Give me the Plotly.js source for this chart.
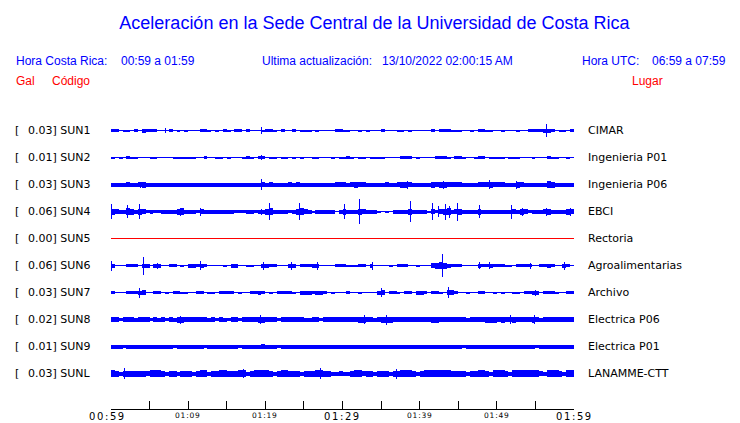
<!DOCTYPE html>
<html><head><meta charset="utf-8">
<script src="https://cdn.plot.ly/plotly-3.0.1.min.js"></script>
<style>html,body{margin:0;padding:0;background:#fff;}
#chart .scatterlayer path{shape-rendering:crispEdges;}</style>
</head><body><div id="chart" style="width:740px;height:423px;"></div>
<script>
// ---------------- DATA ----------------
const stationCodes  = ['SUN1','SUN2','SUN3','SUN4','SUN5','SUN6','SUN7','SUN8','SUN9','SUNL'];
const stationPeakGal = ['0.03','0.01','0.03','0.06','0.00','0.06','0.03','0.02','0.01','0.03'];
const stationPlaces = ['CIMAR','Ingenieria P01','Ingenieria P06','EBCI','Rectoria','Agroalimentarias','Archivo','Electrica P06','Electrica P01','LANAMME-CTT'];

// envelope of each trace, one character per half minute (00:59 -> 01:59),
// base-36 digit = full trace height in pixels
const envSUN1 = '331221314333111312121113321213' + '213313111233213113122212111133' + '221121211131112212111113133322' + '211213322112111211333344312213';
const envSUN2 = '212132211122111122222211311221' + '211123213312212212121122111212' + '232122122221111333121111333213' + '321123312222122211121113221121';
const envSUN3 = '444454456444444444444444444444' + '444444444545444454544444444455' + '545655444445445665444446566555' + '544445556555444654444447644444';
const envSUN4 = '654476465343344446744435444444' + '443334434467444434675424444414' + '644465444212144446444425356745' + '644446444444445465344456444465';
const envSUN5 = '111111111111111111111111111111' + '111111111111111111111111111111' + '111111111111111111111111111111' + '111111111111111111111111111111';
const envSUN6 = '411133314414411331214434311112' + '144112211443311144133344111133' + '322233141111213331121115676433' + '311114334333221333311334311431';
const envSUN7 = '311133345113312133221133122133' + '331211334312133332144434431211' + '131121111451332133144313321553' + '112113311212112213344133321133';
const envSUN8 = '553555455535453546655555545354' + '355355556655535555554455355555' + '555566554566655555555556655555' + '554555566656556555565455555555';
const envSUN9 = '444344444444444434444444344444' + '444344444544434444444444444444' + '444444444444444444444444444444' + '434444444444444444443444444444';
const envSUNL = '764666666577764664666467746677' + '666774677776467766646667766445' + '446775664666466777646777777766' + '664667764777647777777547776477';
const envelopes = [envSUN1, envSUN2, envSUN3, envSUN4, envSUN5, envSUN6, envSUN7, envSUN8, envSUN9, envSUNL];

// isolated spikes: minute after 00:59 and half height (px)
const spikeMinutes = [
  [7.0, 19.5, 56.5],
  [19.5],
  [2.25, 3.85, 19.5, 38.4, 43.1, 49.0, 52.5],
  [0.05, 2.15, 3.7, 8.95, 11.6, 19.5, 20.6, 24.4, 30.2, 32.2, 38.75, 41.6, 42.5, 43.4, 43.85, 44.9, 47.8, 51.9, 53.3, 56.4, 59.6],
  [],
  [0.05, 4.2, 6.05, 11.65, 19.8, 23.45, 26.7, 33.9, 42.9, 47.7, 49.0, 54.4, 58.75],
  [3.75, 35.1, 43.8, 55.0],
  [8.95, 19.4, 32.8, 35.7, 51.8, 54.9],
  [19.5],
  [1.8, 17.2, 27.2, 37.0]
];
const spikeHalf = [
  [2.5, 3.5, 6.3],
  [2.5],
  [2.5, 3, 5.8, 4, 4, 4.5, 4],
  [7.3, 6.5, 7.3, 4, 4, 3, 8.3, 8.3, 7.7, 12.5, 10.5, 8.3, 5.5, 8, 6, 9, 6.5, 7, 4, 4, 4],
  [],
  [5, 9, 3, 4.5, 4, 4, 4, 4, 11.7, 3.5, 3.5, 3, 4],
  [5, 4.5, 5.7, 3],
  [4, 4.7, 4.5, 5, 4.5, 4.5],
  [2.5],
  [5.3, 4.5, 5.5, 5]
];

const tickMinutes = [0,5,10,15,20,25,30,35,40,45,50,55,60];
const tickLabels  = ['00:59','','01:09','','01:19','','01:29','','01:39','','01:49','','01:59'];
const majorLabels = ['00:59','01:29','01:59'];

const titleText = 'Aceleración en la Sede Central de la Universidad de Costa Rica';
const headerLeft = ['Hora Costa Rica:', '00:59 a 01:59'];
const headerMid = ['Ultima actualización:', '13/10/2022 02:00:15 AM'];
const headerRight = ['Hora UTC:', '06:59 a 07:59'];
const columnHeads = ['Gal', 'Código', 'Lugar'];

// ---------------- STYLE / LAYOUT ----------------
const BLUE = '#0000ff', RED = '#ff0000';
const ML = 111, MR = 166, MT = 103, MB = 14, W = 740, H = 423;
const PW = W - ML - MR, PH = H - MT - MB;
const ROW0 = 27.5, ROWSTEP = 27;
const px2x = p => (p - ML) / PW;
const py2y = p => (H - MB - p) / PH;
const LBL = 'DejaVu Sans, sans-serif';
const HDR = 'Liberation Sans, Arial, sans-serif';

const traces = [];
envelopes.forEach((env, r) => {
  const c = ROW0 + r * ROWSTEP;
  const color = parseFloat(stationPeakGal[r]) === 0 ? RED : BLUE;
  const n = env.length, dt = 60 / n;
  const xs = [], ys = [];
  for (let i = 0; i < n; i++) {
    const h = parseInt(env[i], 36) / 2;
    xs.push(i * dt, (i + 1) * dt); ys.push(c - h, c - h);
  }
  for (let i = n - 1; i >= 0; i--) {
    const h = parseInt(env[i], 36) / 2;
    xs.push((i + 1) * dt, i * dt); ys.push(c + h, c + h);
  }
  xs.push(xs[0]); ys.push(ys[0]);
  traces.push({type:'scatter', mode:'lines', x:xs, y:ys, fill:'toself', fillcolor:color,
    line:{color:color, width:0, simplify:false}, hoverinfo:'skip', showlegend:false});
  const sx = [], sy = [];
  spikeMinutes[r].forEach((t, k) => {
    sx.push(t, t, null); sy.push(c - spikeHalf[r][k], c + spikeHalf[r][k], null);
  });
  if (sx.length) traces.push({type:'scatter', mode:'lines', x:sx, y:sy,
    line:{color:color, width:1, simplify:false}, hoverinfo:'skip', showlegend:false, connectgaps:false});
});

const ann = [];
const addText = (text, xpx, ypx, size, color, family, anchor) => ann.push({
  text, xref:'paper', yref:'paper', x:px2x(xpx), y:py2y(ypx), xanchor:anchor||'left', yanchor:'middle',
  showarrow:false, borderpad:0, font:{family:family, size:size, color:color}});

// header
addText(headerLeft[0], 15, 60.5, 12, BLUE, HDR);
addText(headerLeft[1], 120, 60.5, 12, BLUE, HDR);
addText(headerMid[0], 260.7, 60.5, 12, BLUE, HDR);
addText(headerMid[1], 380.7, 60.5, 12, BLUE, HDR);
addText(headerRight[0], 580.7, 60.5, 12, BLUE, HDR);
addText(headerRight[1], 650.7, 60.5, 12, BLUE, HDR);
addText(columnHeads[0], 15, 80.8, 12, RED, HDR);
addText(columnHeads[1], 50.7, 80.8, 12, RED, HDR);
addText(columnHeads[2], 630.7, 80.8, 12, RED, HDR);

// row labels
stationCodes.forEach((code, r) => {
  const c = ROW0 + r * ROWSTEP;
  const base = {xref:'paper', yref:'y', y:c, yanchor:'middle', xanchor:'left', showarrow:false, borderpad:0,
    font:{family:LBL, size:11, color:'#000'}};
  ann.push(Object.assign({}, base, {text:'[', x:px2x(14)}));
  ann.push(Object.assign({}, base, {text:stationPeakGal[r] + '] ' + code, x:px2x(27)}));
  ann.push(Object.assign({}, base, {text:stationPlaces[r], x:px2x(586.7)}));
});

// time labels
tickMinutes.forEach((m, k) => {
  const lab = tickLabels[k];
  if (!lab) return;
  const big = majorLabels.includes(lab);
  ann.push({xref:'x', yref:'paper', x:m, y:py2y(410), xanchor:'center', yanchor:'top', showarrow:false,
    borderpad:0, xshift: k === 0 ? -4 : 0,
    text:'<span style="letter-spacing:' + (big ? '1.6px' : '0.8px') + '">' + lab + '</span>',
    font:{family:LBL, size: big ? 10 : 7.5, color:'#000'}});
});

const layout = {
  width:W, height:H, margin:{l:ML, r:MR, t:MT, b:MB, pad:0},
  paper_bgcolor:'#fff', plot_bgcolor:'#fff', showlegend:false,
  title:{text:titleText, font:{family:HDR, size:18, color:BLUE}, x:374.5/W, xanchor:'center',
    y:1 - 23/H, yanchor:'middle'},
  xaxis:{range:[0,60], showgrid:false, zeroline:false, showline:true, linecolor:'#000', linewidth:1,
    ticks:'inside', ticklen:8, tickcolor:'#000', tickwidth:1, tickvals:tickMinutes, showticklabels:false,
    fixedrange:true},
  yaxis:{range:[PH,0], visible:false, showgrid:false, zeroline:false, fixedrange:true},
  annotations:ann
};
Plotly.newPlot('chart', traces, layout, {displayModeBar:false, staticPlot:true});
</script></body></html>
